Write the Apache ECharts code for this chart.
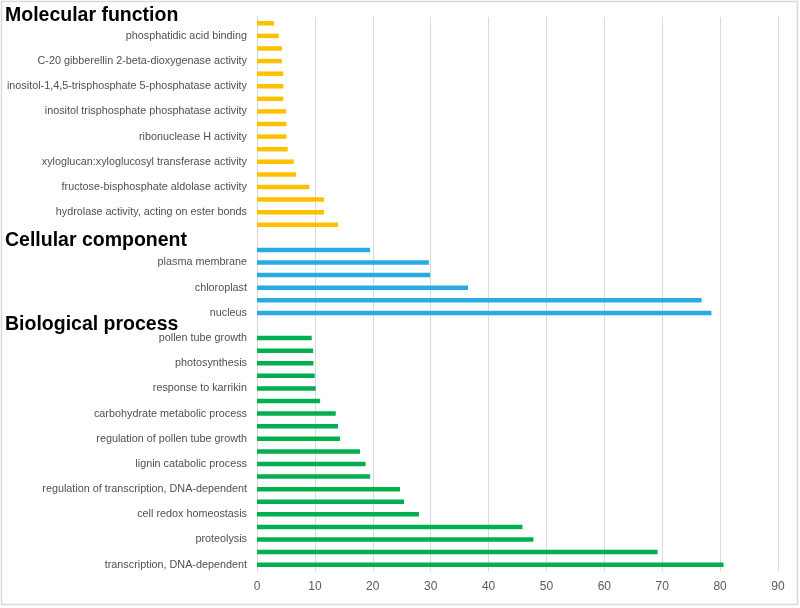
<!DOCTYPE html>
<html>
<head>
<meta charset="utf-8">
<script src="https://cdn.jsdelivr.net/npm/echarts@6/dist/echarts.min.js"></script>
<style>
  html, body { margin: 0; padding: 0; background: #fff; }
  #chart { width: 800px; height: 608px; }
</style>
</head>
<body>
<div id="chart"></div>
<script>
// top to bottom, '' = label skipped in the original
var mfNames = ['', 'phosphatidic acid binding', '', 'C-20 gibberellin 2-beta-dioxygenase activity', '',
  'inositol-1,4,5-trisphosphate 5-phosphatase activity', '', 'inositol trisphosphate phosphatase activity', '',
  'ribonuclease H activity', '', 'xyloglucan:xyloglucosyl transferase activity', '',
  'fructose-bisphosphate aldolase activity', '', 'hydrolase activity, acting on ester bonds', '']
var mfValues = [2.95, 3.75, 4.3, 4.3, 4.55, 4.55, 4.55, 5.0, 5.1, 5.1, 5.3, 6.35, 6.75, 9.05, 11.6, 11.6, 14.0]

var ccNames = ['', 'plasma membrane', '', 'chloroplast', '', 'nucleus']
var ccValues = [19.55, 29.7, 29.9, 36.45, 76.8, 78.5]

var bpNames = ['pollen tube growth', '', 'photosynthesis', '', 'response to karrikin', '',
  'carbohydrate metabolic process', '', 'regulation of pollen tube growth', '', 'lignin catabolic process', '',
  'regulation of transcription, DNA-dependent', '', 'cell redox homeostasis', '', 'proteolysis', '',
  'transcription, DNA-dependent']
var bpValues = [9.45, 9.7, 9.75, 9.98, 10.15, 10.9, 13.6, 14.0, 14.36, 17.8, 18.75, 19.55, 24.7, 25.4, 27.97,
  45.85, 47.75, 69.2, 80.6]

var groupTitles = ['Molecular function', 'Cellular component', 'Biological process']

// one empty slot between groups
var categories = mfNames.concat([''], ccNames, [''], bpNames)

function fill (values, start) {
  var arr = []
  for (var i = 0; i < categories.length; i++) {
    var k = i - start
    arr.push(k >= 0 && k < values.length ? values[k] : null)
  }
  return arr
}

var myChart = echarts.init(document.getElementById('chart'))

var titleStyle = {
  fontFamily: 'Liberation Sans, Arial, sans-serif',
  fontSize: 19.5,
  fontWeight: 'bold',
  fill: '#000'
}

var option = {
  animation: false,
  grid: {
    top: 17,
    left: 257,
    right: 22,
    bottom: 37,
    containLabel: false,
    outerBoundsMode: 'none'
  },
  graphic: [
    {
      type: 'rect',
      shape: { x: 1.5, y: 1.5, width: 796, height: 603 },
      style: { fill: 'none', stroke: '#d9d9d9', lineWidth: 1.5 },
      silent: true
    },
    { type: 'text', left: 5, top: 6, style: Object.assign({ text: groupTitles[0] }, titleStyle) },
    { type: 'text', left: 5, top: 231, style: Object.assign({ text: groupTitles[1] }, titleStyle) },
    { type: 'text', left: 5, top: 315, style: Object.assign({ text: groupTitles[2] }, titleStyle) }
  ],
  xAxis: {
    type: 'value',
    min: 0,
    max: 90,
    interval: 10,
    axisLine: { show: false },
    axisTick: { show: false },
    axisLabel: {
      color: '#595959',
      fontFamily: 'Liberation Sans, Arial, sans-serif',
      fontSize: 12,
      margin: 10
    },
    splitLine: {
      lineStyle: { color: '#d9d9d9', width: 1 }
    }
  },
  yAxis: {
    type: 'category',
    inverse: true,
    data: categories,
    axisLine: { show: true, lineStyle: { color: '#d9d9d9', width: 1 } },
    axisTick: { show: false },
    axisLabel: {
      interval: 0,
      color: '#505050',
      fontFamily: 'Liberation Sans, Arial, sans-serif',
      fontSize: 10.8,
      margin: 10
    }
  },
  series: [
    {
      name: groupTitles[0],
      type: 'bar',
      stack: 'go',
      barWidth: 4.5,
      itemStyle: { color: '#ffc000' },
      data: fill(mfValues, 0)
    },
    {
      name: groupTitles[1],
      type: 'bar',
      stack: 'go',
      barWidth: 4.5,
      itemStyle: { color: '#29abe2' },
      data: fill(ccValues, mfNames.length + 1)
    },
    {
      name: groupTitles[2],
      type: 'bar',
      stack: 'go',
      barWidth: 4.5,
      itemStyle: { color: '#00b050' },
      data: fill(bpValues, mfNames.length + ccNames.length + 2)
    }
  ]
}

myChart.setOption(option)
</script>
</body>
</html>
